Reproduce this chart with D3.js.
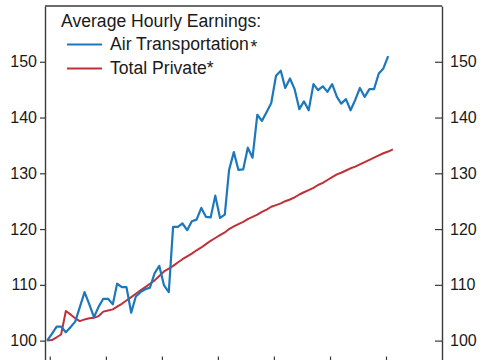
<!DOCTYPE html>
<html><head><meta charset="utf-8">
<script src="https://cdn.jsdelivr.net/npm/d3@7"></script>
<style>
body{margin:0;background:#fff}
svg{display:block}
text{font-family:"Liberation Sans",Arial,Helvetica,sans-serif;fill:#1a1a1a}
</style>
</head><body>
<svg id="chart" width="485" height="360"></svg>
<script>
// ---- data ----
const startMonth = [2019, 12]; // first observation (year, month)
const airTransportation = [
  100.0,101.2,102.5,102.5,101.5,102.4,103.4,106.0,108.7,106.5,
  104.2,106.1,107.5,107.5,106.5,110.2,109.6,109.6,105.0,107.9,
  108.7,109.2,109.5,112.1,113.4,109.9,108.7,120.4,120.4,121.0,
  119.8,121.4,121.7,123.8,122.2,122.1,126.0,122.0,122.6,130.6,
  133.8,130.6,130.7,134.6,132.8,140.5,139.4,141.0,142.6,147.5,
  148.4,145.3,147.0,145.1,141.5,142.9,141.3,146.0,144.9,145.6,
  144.6,146.0,143.7,142.5,143.3,141.3,143.2,145.3,143.7,145.1,
  145.1,147.9,148.8,151.0,null
];
const totalPrivate = [
  100.0,100.1,100.6,101.1,105.3,104.7,104.0,103.5,103.8,104.0,
  104.1,104.4,105.2,105.4,105.6,106.1,106.6,107.2,107.8,108.4,
  109.0,109.6,110.2,110.8,111.6,112.4,112.9,113.4,114.0,114.6,
  115.1,115.6,116.2,116.7,117.3,117.9,118.4,118.9,119.4,120.0,
  120.5,120.9,121.3,121.8,122.2,122.6,123.1,123.5,124.0,124.3,
  124.6,125.0,125.3,125.7,126.2,126.6,127.0,127.4,127.9,128.3,
  128.8,129.3,129.8,130.1,130.5,130.9,131.2,131.6,132.0,132.4,
  132.8,133.2,133.6,133.9,134.3
];
const yTicks = [100,110,120,130,140,150];
const yearTicks = [2020,2021,2022,2023,2024,2025,2026];
const legendTitle = "Average Hourly Earnings:";
const seriesNames = ["Air Transportation", "Total Private"];
const seriesColors = ["#1c77bb", "#bf3038"];

// ---- layout ----
const L = 45, R = 442, T = 6, B = 368.5;
const svg = d3.select("#chart");

const dates = totalPrivate.map((_, i) => new Date(startMonth[0], startMonth[1] - 1 + i, 15));
const x = d3.scaleTime().domain([new Date(2019, 11, 1), new Date(2027, 0, 1)]).range([L, R]);
const y = d3.scaleLinear().domain([95, 160]).range([B, T]);

const axisColor = "#3a3a3a";

// left axis
const gl = svg.append("g").attr("transform", `translate(${L},0)`)
  .call(d3.axisLeft(y).tickValues(yTicks).tickSize(5).tickSizeOuter(0).tickPadding(3));
// right axis (ticks pointing inward)
const gr = svg.append("g").attr("transform", `translate(${R},0)`)
  .call(d3.axisRight(y).tickValues(yTicks).tickSize(-7).tickSizeOuter(0).tickPadding(8));
// bottom axis (inward ticks, labels fall outside the picture)
const gb = svg.append("g").attr("transform", `translate(0,${B})`)
  .call(d3.axisBottom(x).tickValues(yearTicks.map(yr => new Date(yr, 0, 1)))
    .tickSize(-12).tickSizeOuter(0).tickFormat(""));

[gl, gr, gb].forEach(g => {
  g.select(".domain").attr("stroke", axisColor).attr("stroke-width", 1.4);
  g.selectAll(".tick line").attr("stroke", axisColor).attr("stroke-width", 1.2);
  g.selectAll(".tick text").attr("font-size", 16)
    .attr("font-family", '"Liberation Sans",Arial,sans-serif').attr("fill", "#1a1a1a");
});
// top frame line
svg.append("line").attr("x1", L).attr("x2", R).attr("y1", T).attr("y2", T)
  .attr("stroke", axisColor).attr("stroke-width", 1.4);

// lines
const line = d3.line()
  .defined(d => d.v != null)
  .x(d => x(d.date)).y(d => y(d.v));

svg.append("path")
  .datum(totalPrivate.map((v, i) => ({date: dates[i], v})))
  .attr("fill", "none").attr("stroke", seriesColors[1]).attr("stroke-width", 2)
  .attr("stroke-linejoin", "round").attr("d", line);

svg.append("path")
  .datum(airTransportation.map((v, i) => ({date: dates[i], v})))
  .attr("fill", "none").attr("stroke", seriesColors[0]).attr("stroke-width", 2.2)
  .attr("stroke-linejoin", "round").attr("d", line);

// legend
const lg = svg.append("g");
lg.append("text").attr("x", 61).attr("y", 27).attr("font-size", 17.6).text(legendTitle);
const rowsY = [50, 74];
seriesNames.forEach((name, i) => {
  lg.append("line").attr("x1", 67).attr("x2", 102)
    .attr("y1", rowsY[i] - 5.5).attr("y2", rowsY[i] - 5.5)
    .attr("stroke", seriesColors[i]).attr("stroke-width", 2);
  const t = lg.append("text").attr("x", 110).attr("y", rowsY[i]).attr("font-size", 17.6).text(name);
  if (i === 0) {
    t.append("tspan").attr("dx", 1.5).attr("dy", 2.5).text("*");
  } else {
    t.append("tspan").text("*");
  }
});
</script>
</body></html>
